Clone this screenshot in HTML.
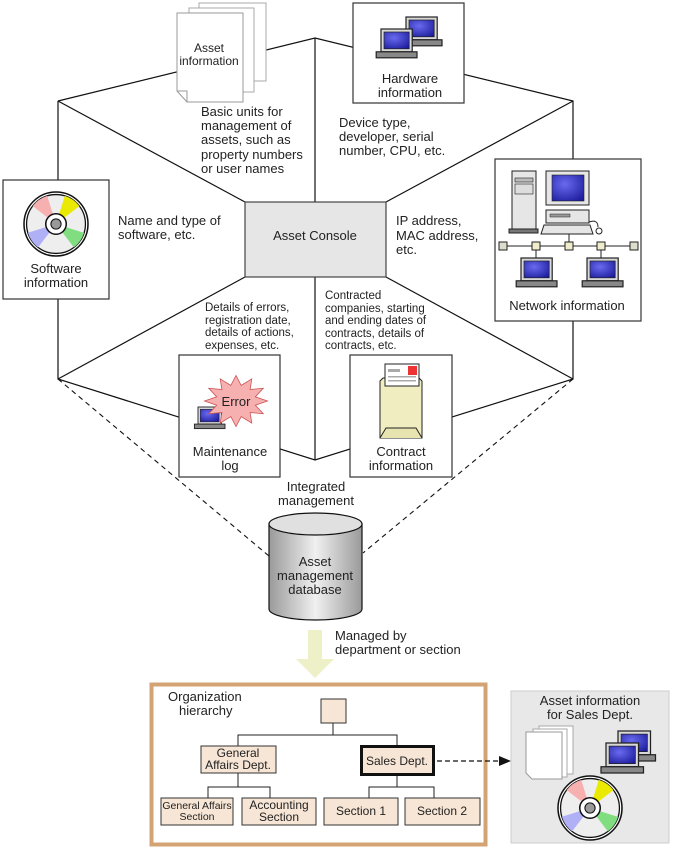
<!DOCTYPE html>
<html><head><meta charset="utf-8"><style>
html,body{margin:0;padding:0;background:#fff}
svg{display:block}
text{font-family:"Liberation Sans",Arial,sans-serif;fill:#222}
</style></head><body>
<svg width="673" height="849" viewBox="0 0 673 849" xmlns="http://www.w3.org/2000/svg">
<defs>
<radialGradient id="scr" cx="0.4" cy="0.35" r="0.8"><stop offset="0" stop-color="#6a6af0"/><stop offset="1" stop-color="#1a1a9a"/></radialGradient>
<linearGradient id="cyl" x1="0" x2="1" y1="0" y2="0"><stop offset="0" stop-color="#9a9a9a"/><stop offset="0.5" stop-color="#f0f0f0"/><stop offset="1" stop-color="#9a9a9a"/></linearGradient>
<g id="lap">
<rect x="0" y="0" width="26" height="19" fill="#d8d8d8" stroke="#222" stroke-width="1"/>
<rect x="2.5" y="2.5" width="21" height="14" fill="url(#scr)" stroke="#222" stroke-width="0.6"/>
<rect x="-4" y="19" width="34" height="5" fill="#888" stroke="#222" stroke-width="1"/>
</g>
<g id="cd">
<circle r="25" fill="#fff" stroke="#111" stroke-width="1.2"/>
<circle r="23" fill="#eee" stroke="#111" stroke-width="1"/>
<circle r="15.5" fill="none" stroke="#f7b0b0" stroke-width="15" stroke-dasharray="9.5 90" transform="rotate(-142.5)"/>
<circle r="15.5" fill="none" stroke="#eaea00" stroke-width="15" stroke-dasharray="9.5 90" transform="rotate(-72.5)"/>
<circle r="15.5" fill="none" stroke="#80dd80" stroke-width="15" stroke-dasharray="9.5 90" transform="rotate(17.5)"/>
<circle r="15.5" fill="none" stroke="#b0b0f7" stroke-width="15" stroke-dasharray="9.5 90" transform="rotate(127.5)"/>
<circle r="8" fill="#fff" stroke="#111" stroke-width="1.2"/>
<circle r="4" fill="#999" stroke="#111" stroke-width="0.8"/>
</g>
</defs>

<!-- hexagon -->
<g stroke="#111" stroke-width="1.2" fill="none">
<polyline points="58,101 315,38 573,101 573,379 315,460 58,379 58,101"/>
<line x1="315" y1="38" x2="315" y2="202"/>
<line x1="315" y1="277" x2="315" y2="460"/>
<line x1="58" y1="101" x2="245" y2="202"/>
<line x1="573" y1="101" x2="386" y2="202"/>
<line x1="58" y1="379" x2="245" y2="277"/>
<line x1="573" y1="379" x2="386" y2="277"/>
</g>
<g stroke="#111" stroke-width="1.1" fill="none" stroke-dasharray="5 4">
<line x1="58" y1="379" x2="269" y2="556"/>
<line x1="573" y1="379" x2="363" y2="553"/>
</g>

<!-- console -->
<rect x="245" y="202" width="141" height="75" fill="#e6e6e6" stroke="#444" stroke-width="1.2"/>
<text x="315" y="240" font-size="13" text-anchor="middle">Asset Console</text>

<!-- asset information papers -->
<rect x="199" y="3" width="67" height="78" fill="#fff" stroke="#aaa"/>
<rect x="189" y="8" width="65" height="84" fill="#fff" stroke="#aaa"/>
<path d="M177 13 H243 V102 H187 L177 91 Z" fill="#fff" stroke="#999"/>
<path d="M177 91 L187 91 L187 102" fill="none" stroke="#999"/>
<text x="209" y="52" font-size="12" text-anchor="middle">Asset</text>
<text x="209" y="65" font-size="12" text-anchor="middle">information</text>

<!-- hardware -->
<rect x="353" y="3" width="111" height="100" fill="#fff" stroke="#333" stroke-width="1.2"/>
<use href="#lap" transform="translate(406,17) scale(1.2)"/>
<use href="#lap" transform="translate(381,29) scale(1.2)"/>
<text x="410" y="83" font-size="13" text-anchor="middle">Hardware</text>
<text x="410" y="97" font-size="13" text-anchor="middle">information</text>

<!-- software -->
<rect x="3" y="180" width="106" height="119" fill="#fff" stroke="#333" stroke-width="1.2"/>
<use href="#cd" transform="translate(56,224) scale(1.28)"/>
<text x="56" y="273" font-size="13" text-anchor="middle">Software</text>
<text x="56" y="287" font-size="13" text-anchor="middle">information</text>

<!-- network -->
<rect x="495" y="159" width="146" height="162" fill="#fff" stroke="#333" stroke-width="1.2"/>
<rect x="512" y="171" width="24" height="58" fill="#e6e6e6" stroke="#222"/>
<rect x="515" y="178" width="18" height="4" fill="#bbb" stroke="#222" stroke-width="0.6"/>
<rect x="515" y="184" width="18" height="10" fill="#ddd" stroke="#222" stroke-width="0.6"/>
<rect x="509" y="229" width="29" height="4" fill="#777" stroke="#222"/>
<rect x="546" y="171" width="43" height="34" fill="#e6e6e6" stroke="#222"/>
<rect x="552" y="175" width="32" height="26" fill="url(#scr)" stroke="#222" stroke-width="0.6"/>
<rect x="546" y="210" width="43" height="13" fill="#e6e6e6" stroke="#222"/>
<rect x="550" y="214" width="20" height="3" fill="#999" stroke="#222" stroke-width="0.5"/>
<path d="M544 225 H590 L593 234 H541 Z" fill="#e6e6e6" stroke="#222"/>
<path d="M589 222 Q598 219 598 227" fill="none" stroke="#222"/>
<circle cx="599" cy="231" r="3" fill="#fff" stroke="#222"/>
<line x1="501" y1="246" x2="637" y2="246" stroke="#222"/>
<line x1="569" y1="234" x2="569" y2="246" stroke="#222"/>
<line x1="536" y1="246" x2="536" y2="258" stroke="#222"/>
<line x1="601" y1="246" x2="601" y2="258" stroke="#222"/>
<rect x="499" y="242" width="8" height="8" fill="#ddc" stroke="#222"/>
<rect x="630" y="242" width="8" height="8" fill="#ddc" stroke="#222"/>
<rect x="532" y="242" width="8" height="8" fill="#f0eccc" stroke="#222"/>
<rect x="565" y="242" width="8" height="8" fill="#f0eccc" stroke="#222"/>
<rect x="597" y="242" width="8" height="8" fill="#f0eccc" stroke="#222"/>
<use href="#lap" transform="translate(521,258) scale(1.2)"/>
<use href="#lap" transform="translate(587,258) scale(1.2)"/>
<text x="567" y="310" font-size="13" text-anchor="middle">Network information</text>

<!-- maintenance -->
<rect x="179" y="355" width="101" height="122" fill="#fff" stroke="#333" stroke-width="1.2"/>
<use href="#lap" transform="translate(198,407) scale(0.9)"/>
<polygon points="267.5,401 255.3,405.2 263.3,413.8 250.1,412.5 251.8,423.1 241.2,416.6 236,426.5 230.8,416.6 220.2,423.1 221.9,412.5 208.7,413.8 216.7,405.2 204.5,401 216.7,396.8 208.7,388.2 221.9,389.5 220.2,378.9 230.8,385.4 236,375.5 241.2,385.4 251.8,378.9 250.1,389.5 263.3,388.2 255.3,396.8" fill="#f7b0b0" stroke="#c55" stroke-width="0.8"/>
<text x="236" y="406" font-size="13" text-anchor="middle">Error</text>
<text x="230" y="456" font-size="13" text-anchor="middle">Maintenance</text>
<text x="230" y="470" font-size="13" text-anchor="middle">log</text>

<!-- contract -->
<rect x="350" y="355" width="102" height="122" fill="#fff" stroke="#333" stroke-width="1.2"/>
<path d="M380 381 L383 378 H419 L422 381 V438 H380 Z" fill="#f0eec0" stroke="#222"/>
<rect x="385" y="364" width="34" height="22" fill="#fff" stroke="#222"/>
<rect x="388" y="369" width="12" height="3" fill="#aaa"/>
<rect x="388" y="376" width="28" height="1.5" fill="#aaa"/>
<rect x="388" y="380" width="28" height="1.5" fill="#aaa"/>
<rect x="408" y="366" width="9" height="9" fill="#e33"/>
<path d="M380 438 L386 428 H416 L422 438" fill="#e8e4b0" stroke="#222"/>
<text x="401" y="456" font-size="13" text-anchor="middle">Contract</text>
<text x="401" y="470" font-size="13" text-anchor="middle">information</text>

<!-- side labels -->
<g font-size="13">
<text x="201" y="116">Basic units for</text>
<text x="201" y="130">management of</text>
<text x="201" y="144">assets, such as</text>
<text x="201" y="159">property numbers</text>
<text x="201" y="173">or user names</text>
<text x="339" y="127">Device type,</text>
<text x="339" y="141">developer, serial</text>
<text x="339" y="155">number, CPU, etc.</text>
<text x="118" y="225">Name and type of</text>
<text x="118" y="239">software, etc.</text>
<text x="396" y="225">IP address,</text>
<text x="396" y="240">MAC address,</text>
<text x="396" y="254">etc.</text>
</g>
<g font-size="11.5">
<text x="205" y="311">Details of errors,</text>
<text x="205" y="324">registration date,</text>
<text x="205" y="336">details of actions,</text>
<text x="205" y="349">expenses, etc.</text>
<text x="325" y="299">Contracted</text>
<text x="325" y="312">companies, starting</text>
<text x="325" y="324">and ending dates of</text>
<text x="325" y="337">contracts, details of</text>
<text x="325" y="349">contracts, etc.</text>
</g>
<text x="316" y="491" font-size="13" text-anchor="middle">Integrated</text>
<text x="316" y="505" font-size="13" text-anchor="middle">management</text>

<!-- database -->
<path d="M269 524 V609 A46.5 11 0 0 0 362 609 V524 Z" fill="url(#cyl)" stroke="#111" stroke-width="1.2"/>
<ellipse cx="315.5" cy="524" rx="46.5" ry="11" fill="#e0e0e0" stroke="#111" stroke-width="1.2"/>
<text x="315" y="566" font-size="13" text-anchor="middle">Asset</text>
<text x="315" y="580" font-size="13" text-anchor="middle">management</text>
<text x="315" y="594" font-size="13" text-anchor="middle">database</text>

<!-- big arrow -->
<polygon points="308,630 322,630 322,659 334,659 315,678 296,659 308,659" fill="#eef0c8"/>
<text x="335" y="640" font-size="13">Managed by</text>
<text x="335" y="654" font-size="13">department or section</text>

<!-- org box -->
<rect x="151.5" y="684.5" width="334" height="160" fill="#fff" stroke="#d4a373" stroke-width="4"/>
<text x="168" y="701" font-size="13">Organization</text>
<text x="179" y="715" font-size="13">hierarchy</text>
<g stroke="#222" stroke-width="1" fill="none">
<line x1="333" y1="723" x2="333" y2="735"/>
<polyline points="238,746 238,735 397,735 397,746"/>
<line x1="238" y1="773" x2="238" y2="787"/>
<polyline points="208,798 208,787 270,787 270,798"/>
<line x1="397" y1="776" x2="397" y2="787"/>
<polyline points="369,798 369,787 434,787 434,798"/>
</g>
<g fill="#f7e6d6" stroke="#333" stroke-width="1">
<rect x="321" y="699" width="25" height="24"/>
<rect x="201" y="746" width="75" height="27"/>
<rect x="161" y="798" width="72" height="27"/>
<rect x="242" y="798" width="74" height="27"/>
<rect x="324" y="798" width="74" height="27"/>
<rect x="405" y="798" width="75" height="27"/>
</g>
<rect x="361.5" y="746.5" width="72" height="28" fill="#f7e6d6" stroke="#111" stroke-width="3"/>
<g font-size="12" text-anchor="middle">
<text x="238" y="757">General</text>
<text x="238" y="769">Affairs Dept.</text>
<text x="397" y="765">Sales Dept.</text>
<text x="197" y="809" font-size="10.5">General Affairs</text>
<text x="197" y="820" font-size="10.5">Section</text>
<text x="279" y="809">Accounting</text>
<text x="279" y="821">Section</text>
<text x="361" y="815">Section 1</text>
<text x="442" y="815">Section 2</text>
</g>
<line x1="437" y1="761" x2="500" y2="761" stroke="#111" stroke-width="1.2" stroke-dasharray="5 3"/>
<polygon points="511,761 499,756 499,766" fill="#111"/>

<!-- gray box -->
<rect x="511" y="691" width="158" height="152" fill="#e8e8e8" stroke="#ccc"/>
<text x="590" y="705" font-size="13" text-anchor="middle">Asset information</text>
<text x="590" y="719" font-size="13" text-anchor="middle">for Sales Dept.</text>
<rect x="539" y="726" width="34" height="48" fill="#fff" stroke="#aaa"/>
<rect x="533" y="729" width="34" height="48" fill="#fff" stroke="#aaa"/>
<path d="M526 732 H562 V779 H532 L526 773 Z" fill="#fff" stroke="#999"/>
<use href="#lap" transform="translate(618,731) scale(1.25)"/>
<use href="#lap" transform="translate(606,743) scale(1.25)"/>
<use href="#cd" transform="translate(590,808) scale(1.28)"/>
</svg>
</body></html>
